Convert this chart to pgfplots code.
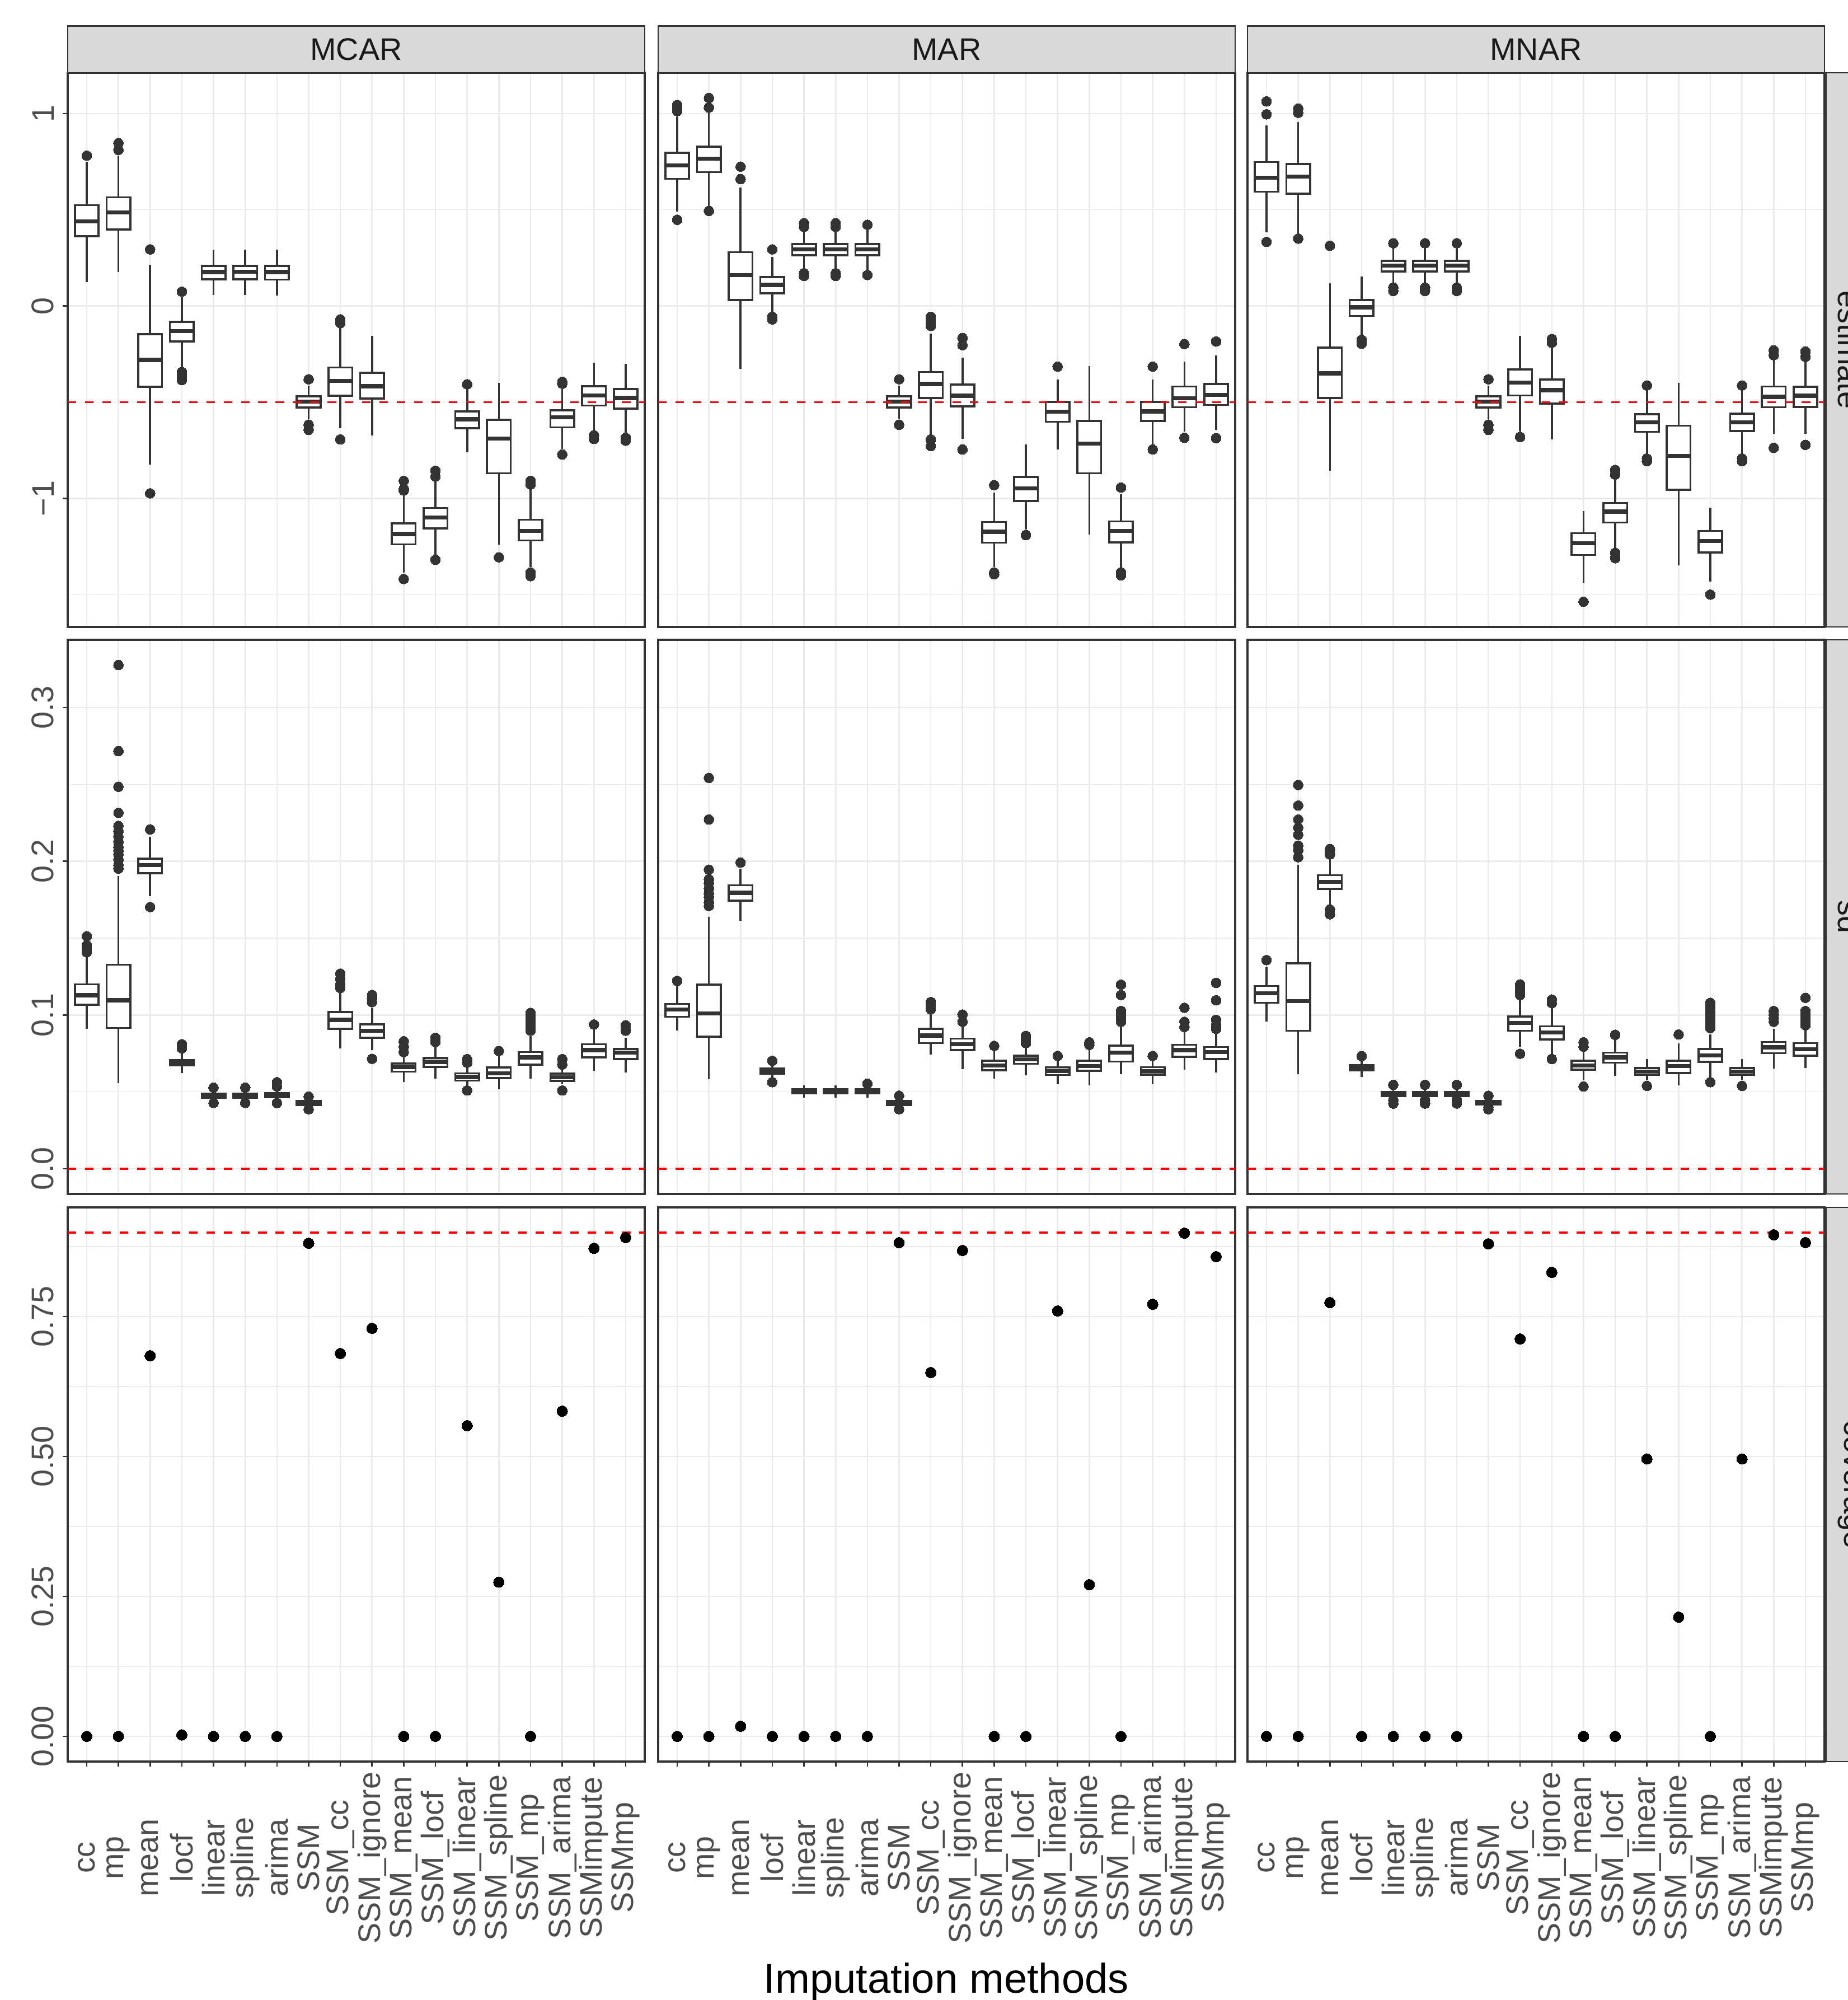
\documentclass[border=0pt]{standalone}
\usepackage{fontspec}
\setmainfont{Liberation Sans}
\usepackage{pgfplots}
\pgfplotsset{compat=1.18}
\definecolor{ggd}{HTML}{333333}
\definecolor{ggt}{HTML}{4D4D4D}
\definecolor{ggg}{HTML}{EBEBEB}
\definecolor{ggs}{HTML}{D9D9D9}
\definecolor{ggst}{HTML}{1A1A1A}
\newcommand\tfont{\fontsize{11.7pt}{14pt}\selectfont}
\pgfplotsset{
 ggout/.style={only marks, mark=*, mark size=1.85pt, mark options={fill=ggd, draw=ggd, line width=0pt, solid}},
 ggwh/.style={draw=ggd, line width=0.75pt, mark=none},
 ggbox/.style={draw=ggd, fill=white, line width=0.75pt, line join=miter, mark=none},
 ggmed/.style={draw=ggd, line width=1.55pt, line cap=butt, mark=none},
 panel/.style={scale only axis, width=216.5pt, height=207.9pt, anchor=south west,
   xmin=-0.6, xmax=17.6, xtick={0,...,17}, xticklabels={},
   axis line style={draw=ggd, line width=0.75pt},
   xmajorgrids=true, ymajorgrids=true, yminorgrids=true,
   major grid style={draw=ggg, line width=0.55pt},
   minor grid style={draw=ggg, line width=0.27pt},
   tick align=outside, major tick length=1.9pt, minor tick length=0pt,
   xtick pos=bottom, ytick pos=left,
   xtick style={draw=none}, ytick style={draw=none},
   tick label style={font=\tfont, text=ggt},
   yticklabel style={rotate=90, anchor=south, inner sep=0pt},
   xticklabel style={rotate=90, anchor=center, inner sep=0pt},
   yticklabel shift=3.1pt, xticklabel shift=34.2pt},
 rowA/.style={ymin=-1.668, ymax=1.212, ytick={-1,0,1}, minor ytick={-1.5,-0.5,0.5}, yticklabels={}},
 rowB/.style={ymin=-0.01638, ymax=0.3440, ytick={0,0.1,0.2,0.3}, minor ytick={0.05,0.15,0.25}, yticklabels={}},
 rowC/.style={ymin=-0.045, ymax=0.945, ytick={0,0.25,0.5,0.75}, minor ytick={0.125,0.375,0.625,0.875}, yticklabels={}},
 lefty/.style={ytick style={draw=ggd, line width=0.55pt}},
 botx/.style={xtick style={draw=ggd, line width=0.55pt}, xticklabels={cc,mp,mean,locf,linear,spline,arima,SSM,SSM\_cc,SSM\_ignore,SSM\_mean,SSM\_locf,SSM\_linear,SSM\_spline,SSM\_mp,SSM\_arima,SSMimpute,SSMmp}},
 refl/.style={draw=red, line width=0.8pt, dash pattern=on 3.2pt off 3.3pt, mark=none},
 cov/.style={only marks, mark=*, mark size=2.0pt, mark options={fill=black, draw=black, line width=0pt}},
}
% box: position, lower whisker, lower quartile, median, upper quartile, upper whisker, outliers
\newcommand\bxn[6]{%
  \pgfmathsetmacro\xl{#1-0.375}\pgfmathsetmacro\xr{#1+0.375}%
  \addplot[ggwh] coordinates {(#1,#2) (#1,#6)};
  \addplot[ggbox] coordinates {(\xl,#3) (\xr,#3) (\xr,#5) (\xl,#5) (\xl,#3) (\xr,#3)};
  \addplot[ggmed] coordinates {(\xl,#4) (\xr,#4)};
}
\newcommand\bxo[7]{%
  \addplot[ggout] table[row sep=\\, x expr=#1, y index=0] {v\\ #7};
  \bxn{#1}{#2}{#3}{#4}{#5}{#6}%
}
\begin{document}
\begin{tikzpicture}
% ---------------- Row 1: estimate ----------------
\begin{axis}[panel, rowA, lefty, yticklabels={−1,0,1}, at={(25.41pt,515.13pt)}]
\bxo{0}{0.124}{0.363}{0.439}{0.524}{0.748}{0.781\\}
\bxo{1}{0.176}{0.398}{0.487}{0.565}{0.781}{0.811\\ 0.846\\}
\bxo{2}{-0.824}{-0.420}{-0.280}{-0.146}{0.213}{0.294\\ -0.974\\}
\bxo{3}{-0.330}{-0.185}{-0.131}{-0.083}{0.046}{0.074\\ -0.344\\ -0.363\\ -0.385\\}
\bxn{4}{0.056}{0.139}{0.176}{0.209}{0.294}
\bxn{5}{0.056}{0.139}{0.178}{0.209}{0.294}
\bxn{6}{0.053}{0.137}{0.176}{0.209}{0.294}
\bxo{7}{-0.589}{-0.528}{-0.498}{-0.470}{-0.413}{-0.381\\ -0.617\\ -0.644\\}
\bxo{8}{-0.635}{-0.467}{-0.389}{-0.320}{-0.111}{-0.070\\ -0.089\\ -0.694\\}
\bxn{9}{-0.672}{-0.481}{-0.417}{-0.348}{-0.156}
\bxo{10}{-1.385}{-1.239}{-1.185}{-1.130}{-0.978}{-0.909\\ -0.950\\ -0.959\\ -1.419\\}
\bxo{11}{-1.293}{-1.156}{-1.100}{-1.050}{-0.913}{-0.856\\ -0.887\\ -1.319\\}
\bxo{12}{-0.759}{-0.635}{-0.589}{-0.548}{-0.435}{-0.407\\}
\bxo{13}{-1.241}{-0.870}{-0.689}{-0.591}{-0.400}{-1.306\\}
\bxo{14}{-1.357}{-1.219}{-1.169}{-1.111}{-0.950}{-0.909\\ -0.928\\ -1.385\\ -1.404\\}
\bxo{15}{-0.744}{-0.631}{-0.578}{-0.543}{-0.428}{-0.394\\ -0.404\\ -0.772\\}
\bxo{16}{-0.654}{-0.517}{-0.465}{-0.417}{-0.296}{-0.672\\ -0.691\\}
\bxo{17}{-0.663}{-0.533}{-0.478}{-0.431}{-0.302}{-0.685\\ -0.700\\}
\addplot[refl] coordinates {(-0.6,-0.5) (17.6,-0.5)};
\end{axis}
\begin{axis}[panel, rowA, at={(246.96pt,515.13pt)}]
\bxo{0}{0.491}{0.661}{0.731}{0.796}{0.985}{1.013\\ 1.022\\ 1.033\\ 1.044\\ 0.448\\}
\bxo{1}{0.517}{0.696}{0.765}{0.828}{1.004}{1.031\\ 1.081\\ 0.494\\}
\bxo{2}{-0.326}{0.031}{0.161}{0.280}{0.615}{0.659\\ 0.724\\}
\bxo{3}{-0.043}{0.065}{0.109}{0.150}{0.254}{0.294\\ -0.056\\ -0.070\\}
\bxo{4}{0.189}{0.263}{0.294}{0.322}{0.389}{0.411\\ 0.430\\ 0.170\\ 0.156\\}
\bxo{5}{0.189}{0.263}{0.294}{0.322}{0.389}{0.411\\ 0.430\\ 0.170\\ 0.156\\}
\bxo{6}{0.185}{0.263}{0.294}{0.322}{0.395}{0.422\\ 0.161\\}
\bxo{7}{-0.585}{-0.528}{-0.498}{-0.470}{-0.413}{-0.381\\ -0.617\\}
\bxo{8}{-0.672}{-0.478}{-0.406}{-0.343}{-0.144}{-0.056\\ -0.074\\ -0.093\\ -0.104\\ -0.694\\ -0.728\\}
\bxo{9}{-0.691}{-0.522}{-0.467}{-0.409}{-0.270}{-0.167\\ -0.204\\ -0.746\\}
\bxo{10}{-1.357}{-1.230}{-1.174}{-1.122}{-0.969}{-0.931\\ -1.385\\ -1.394\\}
\bxo{11}{-1.163}{-1.013}{-0.948}{-0.889}{-0.719}{-1.191\\}
\bxo{12}{-0.746}{-0.602}{-0.550}{-0.498}{-0.381}{-0.315\\}
\bxn{13}{-1.187}{-0.869}{-0.715}{-0.598}{-0.311}
\bxo{14}{-1.367}{-1.228}{-1.170}{-1.120}{-0.978}{-0.944\\ -1.385\\ -1.400\\}
\bxo{15}{-0.719}{-0.598}{-0.548}{-0.498}{-0.381}{-0.315\\ -0.746\\}
\bxo{16}{-0.654}{-0.526}{-0.480}{-0.419}{-0.289}{-0.198\\ -0.685\\}
\bxo{17}{-0.644}{-0.515}{-0.463}{-0.406}{-0.256}{-0.185\\ -0.687\\}
\addplot[refl] coordinates {(-0.6,-0.5) (17.6,-0.5)};
\end{axis}
\begin{axis}[panel, rowA, at={(468.09pt,515.13pt)}]
\bxo{0}{0.383}{0.594}{0.667}{0.748}{0.939}{0.996\\ 1.063\\ 0.333\\}
\bxo{1}{0.375}{0.583}{0.672}{0.737}{0.957}{1.004\\ 1.026\\ 0.350\\}
\bxo{2}{-0.857}{-0.478}{-0.350}{-0.217}{0.119}{0.313\\}
\bxo{3}{-0.159}{-0.052}{-0.007}{0.031}{0.152}{-0.176\\ -0.196\\}
\bxo{4}{0.115}{0.180}{0.209}{0.235}{0.300}{0.326\\ 0.096\\ 0.078\\}
\bxo{5}{0.115}{0.180}{0.209}{0.235}{0.300}{0.326\\ 0.096\\ 0.078\\}
\bxo{6}{0.115}{0.180}{0.209}{0.235}{0.300}{0.326\\ 0.096\\ 0.078\\}
\bxo{7}{-0.589}{-0.528}{-0.498}{-0.470}{-0.413}{-0.381\\ -0.617\\ -0.644\\}
\bxo{8}{-0.654}{-0.465}{-0.398}{-0.330}{-0.156}{-0.681\\}
\bxo{9}{-0.694}{-0.507}{-0.437}{-0.383}{-0.209}{-0.172\\ -0.191\\}
\bxo{10}{-1.441}{-1.294}{-1.233}{-1.181}{-1.065}{-1.537\\}
\bxo{11}{-1.265}{-1.126}{-1.069}{-1.024}{-0.894}{-0.852\\ -0.876\\ -1.283\\ -1.311\\}
\bxo{12}{-0.774}{-0.654}{-0.604}{-0.563}{-0.441}{-0.413\\ -0.793\\ -0.807\\}
\bxn{13}{-1.348}{-0.956}{-0.780}{-0.622}{-0.400}
\bxo{14}{-1.431}{-1.281}{-1.222}{-1.169}{-1.048}{-1.500\\}
\bxo{15}{-0.774}{-0.650}{-0.604}{-0.559}{-0.441}{-0.413\\ -0.793\\ -0.807\\}
\bxo{16}{-0.663}{-0.526}{-0.472}{-0.419}{-0.283}{-0.231\\ -0.256\\ -0.737\\}
\bxo{17}{-0.663}{-0.524}{-0.467}{-0.420}{-0.283}{-0.237\\ -0.265\\ -0.722\\}
\addplot[refl] coordinates {(-0.6,-0.5) (17.6,-0.5)};
\end{axis}
% ---------------- Row 2: sd ----------------
\begin{axis}[panel, rowB, lefty, yticklabels={0.0,0.1,0.2,0.3}, at={(25.41pt,302.40pt)}]
\bxo{0}{0.0910}{0.1067}{0.1128}{0.1199}{0.1385}{0.1408\\ 0.1431\\ 0.1454\\ 0.1512\\}
\bxo{1}{0.0558}{0.0915}{0.1095}{0.1327}{0.1905}{0.1952\\ 0.1975\\ 0.2010\\ 0.2044\\ 0.2068\\ 0.2091\\ 0.2126\\ 0.2160\\ 0.2195\\ 0.2230\\ 0.2315\\ 0.2484\\ 0.2716\\ 0.3276\\}
\bxo{2}{0.1774}{0.1922}{0.1975}{0.2017}{0.2160}{0.2207\\ 0.1702\\}
\bxo{3}{0.0621}{0.0674}{0.0690}{0.0706}{0.0759}{0.0783\\ 0.0810\\}
\bxo{4}{0.0447}{0.0461}{0.0475}{0.0489}{0.0505}{0.0528\\ 0.0428\\}
\bxo{5}{0.0447}{0.0461}{0.0475}{0.0489}{0.0505}{0.0528\\ 0.0428\\}
\bxo{6}{0.0447}{0.0465}{0.0479}{0.0493}{0.0510}{0.0535\\ 0.0563\\ 0.0428\\}
\bxo{7}{0.0405}{0.0414}{0.0428}{0.0440}{0.0452}{0.0470\\ 0.0387\\}
\bxo{8}{0.0783}{0.0910}{0.0968}{0.1019}{0.1153}{0.1176\\ 0.1199\\ 0.1234\\ 0.1269\\}
\bxo{9}{0.0771}{0.0852}{0.0898}{0.0940}{0.1049}{0.1084\\ 0.1107\\ 0.1130\\ 0.0715\\}
\bxo{10}{0.0563}{0.0632}{0.0660}{0.0685}{0.0736}{0.0759\\ 0.0794\\ 0.0829\\}
\bxo{11}{0.0586}{0.0662}{0.0695}{0.0720}{0.0794}{0.0824\\ 0.0852\\}
\bxo{12}{0.0539}{0.0574}{0.0597}{0.0621}{0.0667}{0.0690\\ 0.0713\\ 0.0509\\}
\bxo{13}{0.0516}{0.0590}{0.0621}{0.0658}{0.0736}{0.0766\\}
\bxo{14}{0.0586}{0.0678}{0.0725}{0.0759}{0.0864}{0.0898\\ 0.0922\\ 0.0945\\ 0.0968\\ 0.0991\\ 0.1014\\}
\bxo{15}{0.0551}{0.0572}{0.0595}{0.0618}{0.0655}{0.0678\\ 0.0713\\ 0.0509\\}
\bxo{16}{0.0637}{0.0725}{0.0771}{0.0810}{0.0905}{0.0938\\}
\bxo{17}{0.0627}{0.0713}{0.0755}{0.0778}{0.0852}{0.0898\\ 0.0933\\}
\addplot[refl] coordinates {(-0.6,0) (17.6,0)};
\end{axis}
\begin{axis}[panel, rowB, at={(246.96pt,302.40pt)}]
\bxo{0}{0.0898}{0.0989}{0.1035}{0.1072}{0.1188}{0.1222\\}
\bxo{1}{0.0581}{0.0859}{0.1009}{0.1197}{0.1639}{0.1709\\ 0.1732\\ 0.1767\\ 0.1790\\ 0.1824\\ 0.1859\\ 0.1882\\ 0.1945\\ 0.2271\\ 0.2542\\}
\bxo{2}{0.1611}{0.1743}{0.1794}{0.1843}{0.1952}{0.1991\\}
\bxo{3}{0.0590}{0.0618}{0.0637}{0.0651}{0.0680}{0.0702\\ 0.0563\\}
\bxn{4}{0.0463}{0.0489}{0.0502}{0.0516}{0.0544}
\bxn{5}{0.0463}{0.0489}{0.0502}{0.0516}{0.0544}
\bxo{6}{0.0463}{0.0489}{0.0502}{0.0516}{0.0537}{0.0553\\}
\bxo{7}{0.0405}{0.0414}{0.0428}{0.0442}{0.0455}{0.0475\\ 0.0387\\}
\bxo{8}{0.0743}{0.0817}{0.0866}{0.0910}{0.1010}{0.1037\\ 0.1060\\ 0.1084\\}
\bxo{9}{0.0648}{0.0771}{0.0810}{0.0847}{0.0926}{0.0956\\ 0.1003\\}
\bxo{10}{0.0586}{0.0641}{0.0671}{0.0702}{0.0766}{0.0799\\}
\bxo{11}{0.0609}{0.0683}{0.0711}{0.0736}{0.0794}{0.0817\\ 0.0840\\ 0.0864\\}
\bxo{12}{0.0551}{0.0609}{0.0637}{0.0660}{0.0702}{0.0734\\}
\bxo{13}{0.0544}{0.0637}{0.0669}{0.0702}{0.0776}{0.0806\\ 0.0822\\}
\bxo{14}{0.0614}{0.0697}{0.0755}{0.0801}{0.0926}{0.0956\\ 0.0979\\ 0.1003\\ 0.1026\\ 0.1130\\ 0.1197\\}
\bxo{15}{0.0551}{0.0609}{0.0634}{0.0660}{0.0702}{0.0734\\}
\bxo{16}{0.0644}{0.0727}{0.0771}{0.0806}{0.0891}{0.0922\\ 0.0956\\ 0.1047\\}
\bxo{17}{0.0627}{0.0713}{0.0759}{0.0792}{0.0882}{0.0910\\ 0.0933\\ 0.0968\\ 0.1095\\ 0.1209\\}
\addplot[refl] coordinates {(-0.6,0) (17.6,0)};
\end{axis}
\begin{axis}[panel, rowB, at={(468.09pt,302.40pt)}]
\bxo{0}{0.0956}{0.1079}{0.1141}{0.1188}{0.1315}{0.1357\\}
\bxo{1}{0.0616}{0.0898}{0.1091}{0.1336}{0.1975}{0.2026\\ 0.2072\\ 0.2102\\ 0.2172\\ 0.2218\\ 0.2271\\ 0.2362\\ 0.2496\\}
\bxo{2}{0.1697}{0.1820}{0.1866}{0.1910}{0.2010}{0.2044\\ 0.2056\\ 0.2079\\ 0.1686\\ 0.1655\\}
\bxo{3}{0.0597}{0.0639}{0.0658}{0.0674}{0.0710}{0.0732\\}
\bxo{4}{0.0463}{0.0472}{0.0486}{0.0500}{0.0525}{0.0546\\ 0.0447\\ 0.0424\\}
\bxo{5}{0.0463}{0.0472}{0.0486}{0.0500}{0.0525}{0.0546\\ 0.0447\\ 0.0424\\}
\bxo{6}{0.0463}{0.0472}{0.0486}{0.0500}{0.0525}{0.0546\\ 0.0447\\ 0.0424\\}
\bxo{7}{0.0405}{0.0416}{0.0428}{0.0440}{0.0455}{0.0475\\ 0.0401\\ 0.0387\\}
\bxo{8}{0.0794}{0.0898}{0.0949}{0.0991}{0.1095}{0.1130\\ 0.1153\\ 0.1176\\ 0.1199\\ 0.0748\\}
\bxo{9}{0.0748}{0.0840}{0.0887}{0.0926}{0.1049}{0.1077\\ 0.1100\\ 0.0713\\}
\bxo{10}{0.0574}{0.0644}{0.0671}{0.0702}{0.0771}{0.0794\\ 0.0822\\ 0.0535\\}
\bxo{11}{0.0604}{0.0690}{0.0725}{0.0755}{0.0836}{0.0871\\}
\bxo{12}{0.0574}{0.0609}{0.0632}{0.0655}{0.0713}{0.0539\\}
\bxo{13}{0.0544}{0.0623}{0.0667}{0.0702}{0.0817}{0.0873\\}
\bxo{14}{0.0597}{0.0695}{0.0736}{0.0778}{0.0875}{0.0915\\ 0.0933\\ 0.0956\\ 0.0979\\ 0.1003\\ 0.1026\\ 0.1049\\ 0.1079\\ 0.0563\\}
\bxo{15}{0.0574}{0.0609}{0.0632}{0.0655}{0.0713}{0.0539\\}
\bxo{16}{0.0651}{0.0752}{0.0790}{0.0824}{0.0910}{0.0956\\ 0.0979\\ 0.1003\\ 0.1026\\}
\bxo{17}{0.0655}{0.0736}{0.0778}{0.0817}{0.0905}{0.0933\\ 0.0956\\ 0.0979\\ 0.1003\\ 0.1026\\ 0.1111\\}
\addplot[refl] coordinates {(-0.6,0) (17.6,0)};
\end{axis}
% ---------------- Row 3: coverage ----------------
\begin{axis}[panel, rowC, lefty, botx, yticklabels={0.00,0.25,0.50,0.75}, at={(25.41pt,89.46pt)}]
\addplot[cov] coordinates {(0,0) (1,0) (2,0.680) (3,0.0025) (4,0) (5,0) (6,0) (7,0.881) (8,0.684) (9,0.729) (10,0) (11,0) (12,0.555) (13,0.2755) (14,0) (15,0.581) (16,0.872) (17,0.891)};
\addplot[refl] coordinates {(-0.6,0.9) (17.6,0.9)};
\end{axis}
\begin{axis}[panel, rowC, botx, at={(246.96pt,89.46pt)}]
\addplot[cov] coordinates {(0,0) (1,0) (2,0.018) (3,0) (4,0) (5,0) (6,0) (7,0.882) (8,0.650) (9,0.868) (10,0) (11,0) (12,0.760) (13,0.271) (14,0) (15,0.772) (16,0.899) (17,0.857)};
\addplot[refl] coordinates {(-0.6,0.9) (17.6,0.9)};
\end{axis}
\begin{axis}[panel, rowC, botx, at={(468.09pt,89.46pt)}]
\addplot[cov] coordinates {(0,0) (1,0) (2,0.775) (3,0) (4,0) (5,0) (6,0) (7,0.880) (8,0.710) (9,0.829) (10,0) (11,0) (12,0.4955) (13,0.213) (14,0) (15,0.4955) (16,0.896) (17,0.882)};
\addplot[refl] coordinates {(-0.6,0.9) (17.6,0.9)};
\end{axis}
% ---------------- strips ----------------
\draw[fill=ggs, draw=ggd, line width=0.6pt] (25.41pt,723.03pt) rectangle (241.91pt,740.6pt);
\draw[fill=ggs, draw=ggd, line width=0.6pt] (246.96pt,723.03pt) rectangle (463.46pt,740.6pt);
\draw[fill=ggs, draw=ggd, line width=0.6pt] (468.09pt,723.03pt) rectangle (684.59pt,740.6pt);
\node[font=\tfont, text=ggst] at (133.66pt,731.8pt) {MCAR};
\node[font=\tfont, text=ggst] at (355.21pt,731.8pt) {MAR};
\node[font=\tfont, text=ggst] at (576.34pt,731.8pt) {MNAR};
\draw[fill=ggs, draw=ggd, line width=0.6pt] (685.2pt,515.13pt) rectangle (702.8pt,723.03pt);
\draw[fill=ggs, draw=ggd, line width=0.6pt] (685.2pt,302.40pt) rectangle (702.8pt,510.3pt);
\draw[fill=ggs, draw=ggd, line width=0.6pt] (685.2pt,89.46pt) rectangle (702.8pt,297.36pt);
\node[font=\tfont, text=ggst, rotate=-90] at (694.0pt,619.08pt) {estimate};
\node[font=\tfont, text=ggst, rotate=-90] at (694.0pt,406.35pt) {sd};
\node[font=\tfont, text=ggst, rotate=-90] at (694.0pt,193.41pt) {coverage};
\node[font=\fontsize{15.6pt}{18pt}\selectfont, anchor=base] at (355.1pt,2.7pt) {Imputation methods};
\pgfresetboundingbox
\path[use as bounding box] (0,0) rectangle (693.42pt,750.33pt);
\end{tikzpicture}
\end{document}
